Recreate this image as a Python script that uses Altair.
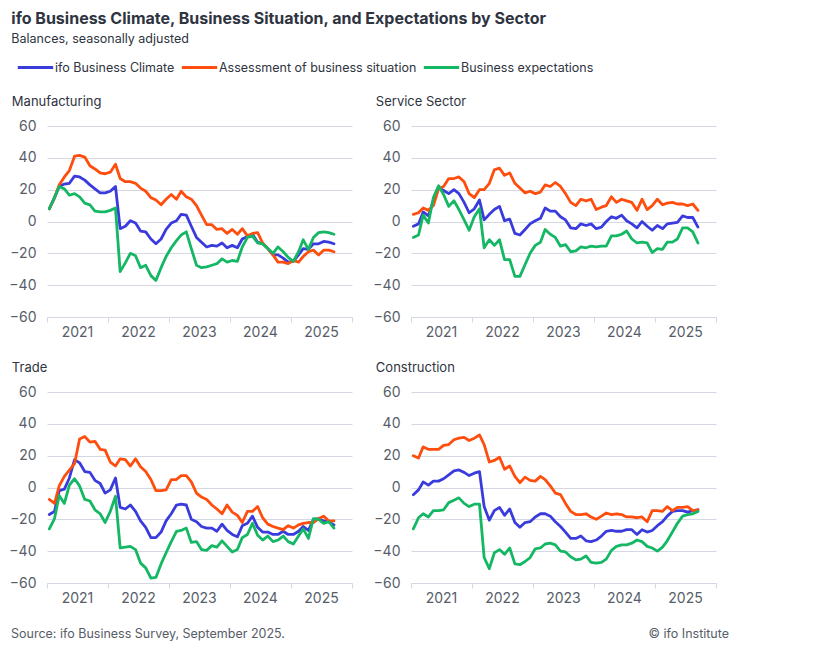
import altair as alt
import pandas as pd

SERIES = ["ifo Business Climate", "Assessment of business situation", "Business expectations"]
COLORS = ["#3a3bdc", "#ff4d0d", "#14b763"]
SECTORS = ["Manufacturing", "Service Sector", "Trade", "Construction"]
YEARS = [2021, 2022, 2023, 2024, 2025, 2026]
MONTHS = [f"{2021 + i // 12}-{i % 12 + 1:02d}-15" for i in range(57)]

mfg_climate = [8, 15, 22, 23.5, 24, 28.5, 28, 26, 23, 20.5, 18, 18,
               19, 22, -4.5, -3, 0.5, -1, -6, -6.5, -11, -14, -11, -5,
               -1, 0.5, 4.5, 4, -3, -10, -13, -16, -15, -15.5, -13.5, -16.5,
               -15, -16.5, -11, -9.5, -8, -13, -14, -17, -21, -21, -23, -25.5,
               -25, -21, -17, -17.5, -14, -14, -12.5, -13, -14]
mfg_situation = [8, 15, 23, 28, 32, 41, 41.5, 40.5, 35, 33, 30.5, 30,
                 31, 36, 27, 25, 25, 24, 21, 19, 15, 13.5, 10.5, 14,
                 17, 14, 19, 15.5, 14, 10, 4, -2, -2, -5, -4.5, -7.5,
                 -5, -8, -4.5, -9, -7.5, -7, -13.5, -17, -21, -25.5, -25.5, -26.5,
                 -24.5, -25.5, -22, -19, -18, -21, -18, -18, -19]
mfg_expect = [8, 15, 22, 20.5, 16.5, 17.5, 15.5, 11.5, 10.5, 6.5, 6, 6,
              7, 8.5, -31.5, -26, -20, -21.5, -29, -27.5, -34, -37, -29, -22,
              -16.5, -12, -8.5, -6.5, -17, -27.5, -29, -28.5, -27.5, -26.5, -23.5, -25.5,
              -24.5, -25, -16, -10, -9, -13.5, -14, -17, -20, -16, -19, -22.5,
              -25, -19, -11.5, -17.5, -10, -7, -6.5, -7, -8]

svc_climate = [-3, -1.5, 6, 3.5, 13, 21.5, 19.5, 17.5, 20, 17.5, 12, 5.5,
               8, 13.5, 1, 4.5, 7.5, 9.5, 0.5, 1.5, -7.5, -8.5, -5, -1.5,
               0.5, 2, 8.5, 6.5, 6.5, 3, 1, -4, -4.5, -1.5, -2.5, -1.5,
               -4.5, -3.5, 0, 3, 2, 4, 0.5, -1.5, -4, 0, -3, -5.5,
               -2.5, -4.5, -1.5, -1, -0.5, 3.5, 2.5, 2.5, -3.5]
svc_situation = [4.5, 5.5, 8.5, 7, 10, 20.5, 22, 27, 27, 28, 25, 17.5,
                 15, 20, 20, 24, 32.5, 33.5, 29, 30.5, 24, 21, 18, 19,
                 17.5, 18.5, 23, 22, 24.5, 22, 17.5, 12, 10, 14, 13, 14,
                 7.5, 9, 10, 15.5, 12, 14, 13, 12, 7, 14, 7.5, 10,
                 14, 10.5, 11.5, 12, 11, 11, 10, 11, 7]
svc_expect = [-10, -8.5, 4, -1, 15, 22.5, 17, 9.5, 13, 7.5, 1, -5.5,
              3, 8, -16.5, -11.5, -15, -11.5, -24, -24, -34.5, -34.5, -27, -20,
              -15, -13, -5, -8, -10, -15.5, -14.5, -19, -18.5, -16, -16.5, -15.5,
              -16, -15.5, -15.5, -9, -9, -8, -6, -11, -13.5, -13, -13.5, -19.5,
              -17, -17.5, -13, -13, -11, -4, -4, -6.5, -13.5]

trade_climate = [-17, -15, -2, -1, 6, 17.5, 15.5, 10, 9.5, 4.5, 2.5, -3.5,
                 -1.5, 6, -12.5, -13.5, -11, -15, -21, -25, -31.5, -31.5, -28, -21,
                 -16.5, -11, -10.5, -11, -20, -21.5, -24.5, -25.5, -25.5, -27.5, -23, -27,
                 -29.5, -31, -24, -22.5, -18, -25, -28, -28, -29.5, -29.5, -27.5, -29.5,
                 -29.5, -27.5, -24.5, -27, -20, -19.5, -21, -21.5, -23.5]
trade_situation = [-7.5, -10, 1, 7, 11, 15, 30.5, 32, 28.5, 29, 24, 23.5,
                   16, 13.5, 18, 17.5, 13.5, 18, 13, 10, 5, -2, -2, -1.5,
                   5, 5, 7.5, 7.5, 3.5, -3.5, -6, -7.5, -11, -13.5, -16.5, -11,
                   -15.5, -17.5, -22, -15, -15, -12, -19, -23, -24.5, -25.5, -26.5, -24,
                   -25.5, -23.5, -22.5, -22, -22, -19.5, -18, -21, -21]
trade_expect = [-26, -19.5, -5, -10, 1.5, 5.5, 1, -7.5, -8.5, -14, -16.5, -22,
                -15, -5.5, -38, -37.5, -37, -39, -47.5, -50.5, -57, -56.5, -48, -41,
                -34, -27.5, -27, -25.5, -34.5, -34, -39, -39.5, -36.5, -37.5, -33.5, -37,
                -40.5, -39, -31.5, -29.5, -22.5, -30, -33, -30.5, -34, -33, -30.5, -34,
                -35.5, -30.5, -26, -32, -19.5, -20, -22.5, -21.5, -25.5]

con_climate = [-4.5, -1.5, 3.5, 1.5, 4, 4, 5.5, 8, 10.5, 11, 9.5, 7.5,
               9, 10, -12, -20.5, -14.5, -12.5, -17.5, -13.5, -22, -25, -22, -21.5,
               -18.5, -16.5, -16.5, -18, -21.5, -24.5, -28, -32, -32, -30.5, -33.5, -34,
               -33, -30.5, -27.5, -27, -27.5, -27.5, -26.5, -26.5, -29.5, -26.5, -28, -27,
               -24, -21.5, -18, -15, -14.5, -14.5, -15.5, -14.5, -14]
con_situation = [20, 18.5, 25.5, 24, 24, 24, 26.5, 27, 30, 31, 31.5, 29.5,
                 31, 33, 27, 16, 17, 19, 11.5, 13.5, 7, 3, 6.5, 4.5,
                 4, 7, 5, 1, -3.5, -4.5, -10, -15, -17, -17, -16.5, -18.5,
                 -20, -18, -16, -17, -16.5, -17, -18.5, -18.5, -19, -18.5, -21.5, -14.5,
                 -14.5, -15, -12, -14.5, -12.5, -12.5, -12, -14.5, -14]
con_expect = [-26, -19, -16.5, -18.5, -14.5, -14.5, -14, -9.5, -8, -6.5, -10, -12,
              -10.5, -10.5, -44, -51, -41, -39, -42, -38, -48, -48.5, -46.5, -44,
              -38.5, -38, -35.5, -35, -36, -40, -40.5, -43.5, -45.5, -45, -43, -47,
              -47.5, -47, -45, -39.5, -37, -36, -36, -35, -33, -34, -37, -38,
              -40, -37.5, -33.5, -28, -22.5, -18, -17, -16.5, -15]

DATA = {
    "Manufacturing": (mfg_climate, mfg_situation, mfg_expect),
    "Service Sector": (svc_climate, svc_situation, svc_expect),
    "Trade": (trade_climate, trade_situation, trade_expect),
    "Construction": (con_climate, con_situation, con_expect),
}

rows = []
for sector, trio in DATA.items():
    for name, vals in zip(SERIES, trio):
        for d, v in zip(MONTHS, vals):
            rows.append({"sector": sector, "series": name, "date": d, "value": v})
df = pd.DataFrame(rows)

FONT = "Inter"
TEXT = "#2e3440"
LABEL = "#575d68"
GRID = "#d4d8e2"

x_vals = [alt.DateTime(year=y, month=1, date=1, utc=True) for y in YEARS]


def panel(sector):
    return alt.Chart(df[df["sector"] == sector]).mark_line(
        strokeWidth=2.8, strokeJoin="round", strokeCap="round"
    ).encode(
        x=alt.X(
            "date:T",
            scale=alt.Scale(type="utc", domain=[x_vals[0], x_vals[-1]]),
            axis=alt.Axis(
                values=x_vals,
                labelExpr="utcyear(datum.value) < 2026 ? utcFormat(datum.value, '%Y') : ''",
                labelOffset={"condition": {"test": "utcyear(datum.value) >= 2026", "value": 0},
                             "value": 30},
                labelFlush=False, labelOverlap=False, labelBound=False,
                grid=False, domain=True, domainColor=GRID, ticks=True, tickColor=GRID,
                tickSize=5, labelPadding=3, title=None,
            ),
        ),
        y=alt.Y(
            "value:Q",
            scale=alt.Scale(domain=[-60, 60]),
            axis=alt.Axis(
                values=list(range(-60, 61, 20)), grid=True, gridColor=GRID,
                domain=False, ticks=False, labelPadding=11, title=None,
            ),
        ),
        color=alt.Color(
            "series:N",
            scale=alt.Scale(domain=SERIES, range=COLORS),
            title=None,
            legend=alt.Legend(
                orient="none", legendX=-31, legendY=-78, direction="horizontal",
                symbolType="stroke", symbolSize=1250, symbolStrokeWidth=3,
                labelFontSize=12.5, labelColor=TEXT, labelFont=FONT, labelLimit=500,
                columnPadding=0, labelOffset=0,
            ),
        ),
    ).properties(
        width=305, height=191,
        title=alt.TitleParams(sector, anchor="start", frame="bounds", fontSize=13,
                              fontWeight="normal", color=TEXT, font=FONT, offset=10, dx=3),
    )


top = alt.hconcat(panel("Manufacturing"), panel("Service Sector"), spacing=19)
bottom = alt.hconcat(panel("Trade"), panel("Construction"), spacing=19)

SOURCE = ["Source: ifo Business Survey, September 2025."]
COPY = ["\u00a9 ifo Institute"]
left_txt = alt.Chart(pd.DataFrame({"t": SOURCE})).mark_text(
    align="left", baseline="middle", fontSize=12.5, font=FONT, color=LABEL
).encode(x=alt.value(-36), y=alt.value(5), text="t:N")
right_txt = alt.Chart(pd.DataFrame({"t": COPY})).mark_text(
    align="right", baseline="middle", fontSize=12.5, font=FONT, color=LABEL
).encode(x=alt.value(682), y=alt.value(5), text="t:N")
footer = alt.layer(left_txt, right_txt).properties(width=600, height=14)

chart = alt.vconcat(top, bottom, footer, spacing=21).properties(
    title=alt.TitleParams(
        "ifo Business Climate, Business Situation, and Expectations by Sector",
        subtitle="Balances, seasonally adjusted",
        anchor="start", fontSize=16, fontWeight="bold", color=TEXT, font=FONT,
        subtitleFontSize=12.5, subtitleColor=TEXT, subtitleFont=FONT, subtitlePadding=6,
        offset=3, dx=3,
    ),
    padding={"left": 0, "top": 2, "right": 5, "bottom": 5},
).configure(font=FONT).configure_view(stroke="transparent").configure_axis(
    labelFont=FONT, labelFontSize=14, labelColor=LABEL
)

chart.save("out.html", embed_options={"renderer": "svg", "actions": False})
